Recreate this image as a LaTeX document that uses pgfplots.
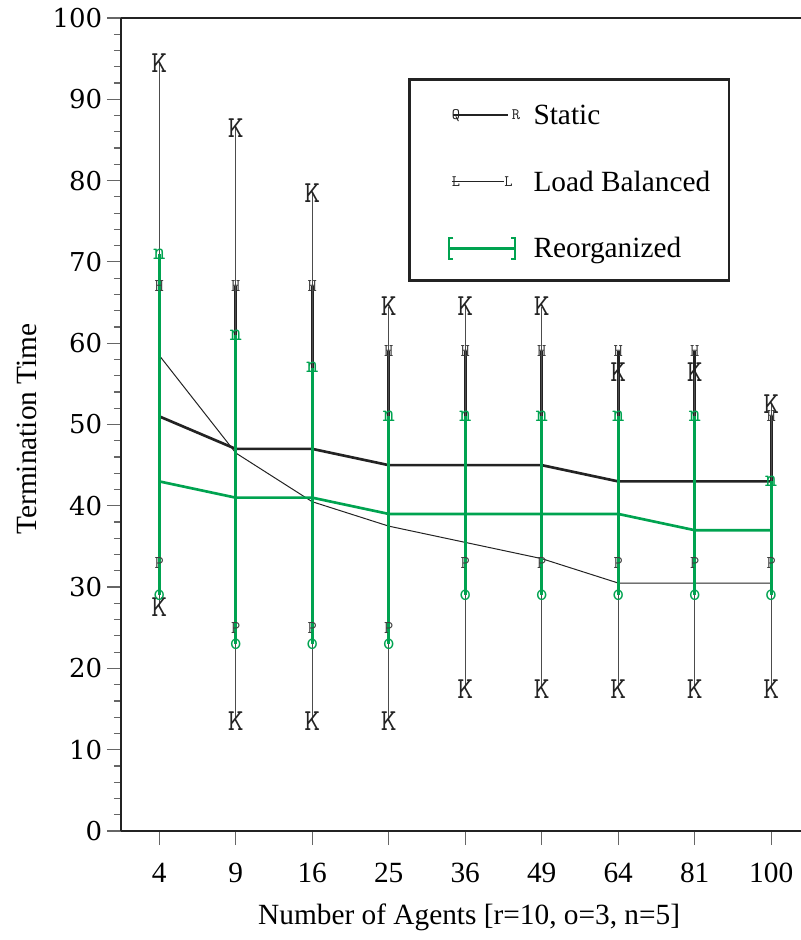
\documentclass[border=0pt]{standalone}
\usepackage{fontspec}
\setmainfont{Liberation Serif}
\newfontfamily\tickfont{DejaVu Serif}
\usepackage{pgfplots}
\pgfplotsset{compat=1.18}
\usepackage{pgfplotstable}
\definecolor{reorg}{RGB}{0,163,80}
\definecolor{axgray}{RGB}{35,35,35}

\pgfplotstableread{
x y hi lo
0 51 67 33
1 47 67 25
2 47 67 25
3 45 59 25
4 45 59 33
5 45 59 33
6 43 59 33
7 43 59 33
8 43 51 33
}\staticdata

\pgfplotstableread{
x y hi lo
0 58.5 94.5 27.5
1 46.5 86.5 13.5
2 40.5 78.5 13.5
3 37.5 64.5 13.5
4 35.5 64.5 17.5
5 33.5 64.5 17.5
6 30.5 56.5 17.5
7 30.5 56.5 17.5
8 30.5 52.5 17.5
}\lbdata

\pgfplotstableread{
x y hi lo
0 43 71 29
1 41 61 23
2 41 57 23
3 39 51 23
4 39 51 29
5 39 51 29
6 39 51 29
7 37 51 29
8 37 43 29
}\reorgdata

\begin{document}
\begin{tikzpicture}
\begin{axis}[
  scale only axis, width=510pt, height=609.75pt,
  xmin=-0.5, xmax=8.39, ymin=0, ymax=100,
  axis x line=box, axis y line=left,
  axis line style={-, line width=2pt, draw=axgray},
  tick align=outside,
  xtick={0,...,8}, xticklabels={4,9,16,25,36,49,64,81,100},
  xtick pos=left, ytick pos=left,
  ytick={0,10,...,100}, minor y tick num=4,
  yticklabels={0,10,20,30,40,50,60,70,80,90,100},
  major tick length=10.5pt, minor tick length=5.25pt,
  every tick/.style={draw=black!60, line width=0.9pt},
  /pgf/number format/assume math mode=true,
  xticklabel style={font=\fontsize{22}{22}\selectfont, yshift=-10pt},
  yticklabel style={font=\fontsize{19.5}{19.5}\tickfont},
  xlabel={Number of Agents [r=10, o=3, n=5]},
  ylabel={Termination Time},
  label style={font=\fontsize{22}{22}\selectfont},
  xlabel style={at={(rel axis cs:0.512,0)}, anchor=center, yshift=-65pt},
  ylabel style={at={(rel axis cs:0,0.4945)}, anchor=center, yshift=70.5pt},
  legend cell align=left,
  legend style={at={(rel axis cs:0.422,0.926)}, anchor=north west,
    draw=axgray, line width=2pt, inner xsep=14pt, inner ysep=14.25pt,
    row sep=30pt, font=\fontsize{22}{22}\selectfont,
    nodes={inner sep=0pt, text height=17pt, text depth=3pt},
    /tikz/every odd column/.append style={column sep=10pt}},
]
\coordinate (SW) at (rel axis cs:0,0);
\coordinate (NE) at (rel axis cs:1,1);

% Static
\addplot[axgray, line width=2pt, mark=none,
  legend image code/.code={
    \path[draw=none, fill=none] (0pt,-10pt) rectangle (66pt,12.5pt);
    \draw[axgray, line width=2pt] (19pt,0pt) -- (60pt,0pt);
    \node[text height=, text depth=, inner sep=0pt, font=\fontsize{12}{12}\ttfamily, text=axgray] at (17pt,0pt) {Q};
    \node[text height=, text depth=, inner sep=0pt, font=\fontsize{12}{12}\ttfamily, text=axgray] at (62pt,0pt) {R};
  },
  error bars/.cd, y dir=both, y explicit, error mark=none,
  error bar style={line width=2pt, axgray}]
  table[x=x, y=y, y error plus expr=\thisrow{hi}-\thisrow{y}, y error minus expr=\thisrow{y}-\thisrow{lo}] {\staticdata};
\addlegendentry{Static}

% Load balanced
\addplot[axgray, line width=0.75pt, mark=none,
  legend image code/.code={
    \path[draw=none, fill=none] (0pt,-10pt) rectangle (66pt,10pt);
    \draw[axgray, line width=0.75pt] (18pt,0pt) -- (57pt,0pt);
    \node[text height=, text depth=, inner sep=0pt, font=\fontsize{12}{12}\ttfamily, text=axgray] at (17.5pt,0pt) {L};
    \node[text height=, text depth=, inner sep=0pt, font=\fontsize{12}{12}\ttfamily, text=axgray] at (57pt,0pt) {L};
  },
  error bars/.cd, y dir=both, y explicit, error mark=none,
  error bar style={line width=0.9pt, black!70}]
  table[x=x, y=y, y error plus expr=\thisrow{hi}-\thisrow{y}, y error minus expr=\thisrow{y}-\thisrow{lo}] {\lbdata};
\addlegendentry{Load Balanced}

% Reorganized
\addplot[reorg, line width=2pt, mark=none,
  legend image code/.code={
    \path[draw=none, fill=none] (0pt,-10pt) rectangle (66pt,10pt);
    \draw[reorg, line width=2pt] (16pt,0pt) -- (65.5pt,0pt);
    \draw[reorg, line width=1.5pt] (19pt,8pt) -- (16pt,8pt) -- (16pt,-8pt) -- (19pt,-8pt);
    \draw[reorg, line width=1.5pt] (62.5pt,8pt) -- (65.5pt,8pt) -- (65.5pt,-8pt) -- (62.5pt,-8pt);
  },
  error bars/.cd, y dir=both, y explicit, error mark=none,
  error bar style={line width=2.5pt, reorg}]
  table[x=x, y=y, y error plus expr=\thisrow{hi}-\thisrow{y}, y error minus expr=\thisrow{y}-\thisrow{lo}] {\reorgdata};
\addlegendentry{Reorganized}

% glyph caps
\addplot[forget plot, only marks, mark=text, text mark={K}, text mark as node=true,
  text mark style={font=\fontsize{23}{23}\ttfamily, text=axgray, inner sep=0pt}]
  table[x=x, y=hi] {\lbdata};
\addplot[forget plot, only marks, mark=text, text mark={K}, text mark as node=true,
  text mark style={font=\fontsize{23}{23}\ttfamily, text=axgray, inner sep=0pt}]
  table[x=x, y=lo] {\lbdata};
\addplot[forget plot, only marks, mark=text, text mark={H}, text mark as node=true,
  text mark style={font=\fontsize{13.5}{13.5}\ttfamily, text=black!75, inner sep=0pt}]
  table[x=x, y=hi] {\staticdata};
\addplot[forget plot, only marks, mark=text, text mark={P}, text mark as node=true,
  text mark style={font=\fontsize{13.5}{13.5}\ttfamily, text=black!75, inner sep=0pt}]
  table[x=x, y=lo] {\staticdata};
\addplot[forget plot, only marks, mark=text, text mark={n}, text mark as node=true,
  text mark style={font=\fontsize{18}{18}\ttfamily, text=reorg, inner sep=0pt}]
  table[x=x, y=hi] {\reorgdata};
\addplot[forget plot, only marks, mark=text, text mark={o}, text mark as node=true,
  text mark style={font=\fontsize{18}{18}\ttfamily, text=reorg, inner sep=0pt}]
  table[x=x, y=lo] {\reorgdata};
\end{axis}
\pgfresetboundingbox
\path[use as bounding box] ([xshift=-90.75pt,yshift=-81.75pt]SW) rectangle ([yshift=13.5pt]NE);
\end{tikzpicture}
\end{document}
